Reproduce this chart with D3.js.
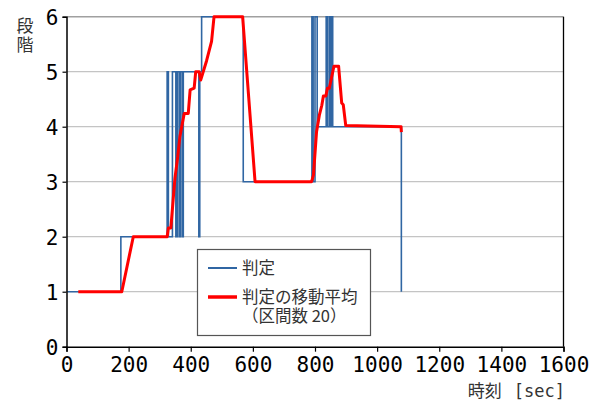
<!DOCTYPE html>
<html>
<head>
<meta charset="utf-8">
<script src="https://cdn.jsdelivr.net/npm/d3@7"></script>
<style>
  body { margin: 0; background: #fff; }
  svg { display: block; }
</style>
</head>
<body>
<script>
// 判定 (step values) -- time where each level starts
const judgeTimes = [3, 175, 324, 328, 341, 352, 357, 363, 366, 372, 376, 426, 429, 435, 569, 790, 794, 800, 807, 836, 840, 846, 851, 853, 857, 1077, 1078];
const judgeValues = [1, 2, 5, 2, 5, 2, 5, 2, 5, 2, 5, 2, 5, 6, 3, 6, 3, 6, 4, 6, 4, 6, 4, 6, 4, 4, 1];

// 判定の移動平均 (区間数 20)
const avgTimes = [38, 178, 215, 324, 328, 336, 349, 358, 365, 379, 392, 398, 411, 416, 427, 432, 451, 467, 475, 567, 607, 789, 795, 805, 814, 822, 827, 835, 840, 846, 861, 876, 886, 891, 899, 1077, 1078];
const avgValues = [1, 1, 2, 2, 2.16, 2.16, 3.06, 3.45, 3.82, 4.24, 4.24, 4.67, 4.7, 5, 5, 4.85, 5.2, 5.55, 6, 6, 3, 3, 3.12, 3.91, 4.21, 4.39, 4.56, 4.56, 4.7, 4.7, 5.1, 5.1, 4.43, 4.4, 4.02, 4.0, 3.9];

const xTicks = [0, 200, 400, 600, 800, 1000, 1200, 1400, 1600];
const yTicks = [0, 1, 2, 3, 4, 5, 6];
const gridLevels = [1, 2, 3, 4, 5, 6];

const width = 600;
const height = 405;
const margin = { top: 16.7, right: 36.5, bottom: 58.3, left: 66.5 };

const svg = d3.select('body')
  .append('svg')
  .attr('width', width)
  .attr('height', height);

const x = d3.scaleLinear()
  .domain([0, 1600])
  .range([margin.left, width - margin.right]);

const y = d3.scaleLinear()
  .domain([0, 6])
  .range([height - margin.bottom, margin.top]);

const monoFont = '"DejaVu Sans Mono", monospace';
const jpFont = '"Noto Sans CJK JP", sans-serif';

// grid
svg.append('g')
  .selectAll('line')
  .data(gridLevels)
  .enter()
  .append('line')
  .attr('x1', x(0))
  .attr('x2', x(1600))
  .attr('y1', d => y(d))
  .attr('y2', d => y(d))
  .attr('stroke', d => d === 6 ? '#a0a0a0' : '#c4c4c4')
  .attr('stroke-width', d => d === 6 ? 1.5 : 1.2);

// right spine
svg.append('line')
  .attr('x1', x(1600)).attr('x2', x(1600))
  .attr('y1', y(6)).attr('y2', y(0))
  .attr('stroke', '#000')
  .attr('stroke-width', 1.3);

// data lines
const judgeData = judgeTimes.map((t, i) => ({ t, v: judgeValues[i] }));
const avgData = avgTimes.map((t, i) => ({ t, v: avgValues[i] }));

svg.append('path')
  .datum(judgeData)
  .attr('fill', 'none')
  .attr('stroke', '#3066a3')
  .attr('stroke-width', 1.6)
  .attr('d', d3.line().x(d => x(d.t)).y(d => y(d.v)).curve(d3.curveStepAfter));

svg.append('path')
  .datum(avgData)
  .attr('fill', 'none')
  .attr('stroke', '#ff0000')
  .attr('stroke-width', 3)
  .attr('stroke-linejoin', 'round')
  .attr('d', d3.line().x(d => x(d.t)).y(d => y(d.v)));

// axes
const xAxis = svg.append('g')
  .attr('transform', `translate(0,${y(0)})`)
  .call(d3.axisBottom(x).tickValues(xTicks).tickSize(5).tickPadding(5).tickFormat(d3.format('d')));

const yAxis = svg.append('g')
  .attr('transform', `translate(${x(0)},0)`)
  .call(d3.axisLeft(y).tickValues(yTicks).tickSize(4).tickPadding(4).tickFormat(d3.format('d')));

[xAxis, yAxis].forEach(g => {
  g.select('.domain').attr('stroke', '#000').attr('stroke-width', 1.5);
  g.selectAll('.tick line').attr('stroke', '#000').attr('stroke-width', 1.2);
  g.selectAll('.tick text')
    .attr('fill', '#000')
    .style('font-family', monoFont)
    .style('font-size', '21px');
});
yAxis.selectAll('.tick text').attr('dy', '0.36em');

// axis titles
svg.append('text')
  .attr('x', 25).attr('y', 17)
  .style('writing-mode', 'vertical-rl')
  .style('font-family', jpFont).style('font-size', '17px')
  .style('letter-spacing', '2px')
  .attr('fill', '#333')
  .text('段階');

const xTitle = svg.append('text')
  .attr('x', 565).attr('y', 397)
  .attr('text-anchor', 'end')
  .style('font-size', '17px')
  .attr('fill', '#333');
xTitle.append('tspan').style('font-family', jpFont).text('時刻');
xTitle.append('tspan').style('font-family', monoFont).attr('dx', 12).text('[sec]');

// legend
const legend = svg.append('g');
legend.append('rect')
  .attr('x', 197.5).attr('y', 249.5)
  .attr('width', 173).attr('height', 86)
  .attr('fill', '#fff')
  .attr('stroke', '#555')
  .attr('stroke-width', 1.2);

const legendItems = [
  { color: '#3066a3', w: 2, ly: 268, lines: ['判定'] },
  { color: '#ff0000', w: 3.5, ly: 297, lines: ['判定の移動平均', '（区間数 20）'] }
];
legendItems.forEach(item => {
  legend.append('line')
    .attr('x1', 208).attr('x2', 237)
    .attr('y1', item.ly).attr('y2', item.ly)
    .attr('stroke', item.color)
    .attr('stroke-width', item.w);
  const label = legend.append('text')
    .attr('y', item.ly + 6)
    .style('font-family', jpFont).style('font-size', '16.5px')
    .attr('fill', '#333');
  item.lines.forEach((s, i) => {
    label.append('tspan')
      .attr('x', 242)
      .attr('dy', i === 0 ? 0 : 19)
      .text(s);
  });
});
</script>
</body>
</html>
